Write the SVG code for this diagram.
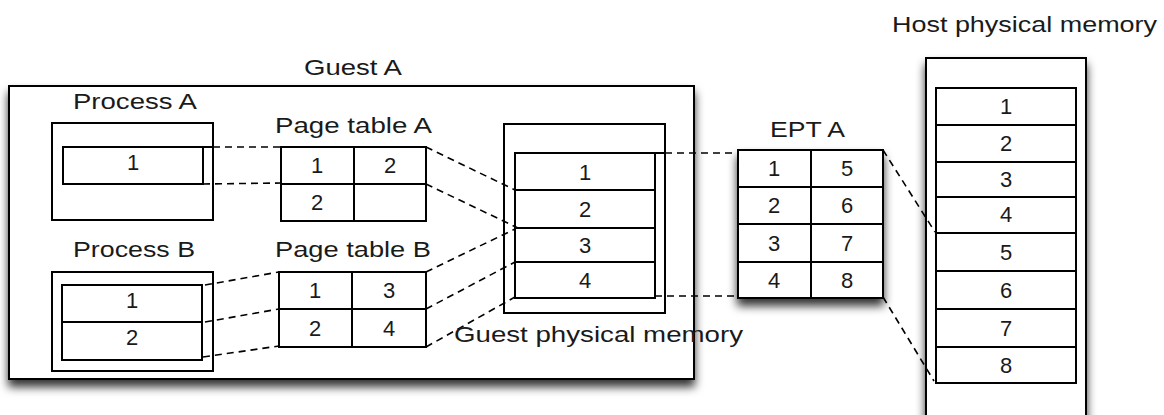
<svg xmlns="http://www.w3.org/2000/svg" width="1164" height="415" viewBox="0 0 1164 415">
<style>
.box{fill:#fff;stroke:#000;stroke-width:2}
.ln{fill:none;stroke:#000;stroke-width:2}
.dash{fill:none;stroke:#000;stroke-width:1.6;stroke-dasharray:7 5}
text{font-family:"Liberation Sans",Arial,sans-serif;font-size:22px;fill:#1a1a1a}
.c{text-anchor:middle}
</style>
<defs>
<filter id="sh" x="-20%" y="-20%" width="140%" height="150%">
<feDropShadow dx="0" dy="7" stdDeviation="5" flood-color="#000" flood-opacity="0.8"/>
</filter>
</defs>
<rect width="1164" height="415" fill="#fff"/>

<g id="guestA">
<rect class="box" x="9" y="86" width="685" height="293" filter="url(#sh)"/>
<text x="304" y="75" textLength="98" lengthAdjust="spacingAndGlyphs">Guest A</text>
</g>

<g id="processA">
<text x="73" y="109" textLength="124" lengthAdjust="spacingAndGlyphs">Process A</text>
<rect class="box" x="52" y="123" width="161" height="97"/>
<rect class="box" x="63" y="147" width="140" height="37"/>
<line class="ln" x1="203" y1="147" x2="213" y2="147"/>
<text class="c" x="133" y="170">1</text>
</g>

<g id="pageTableA">
<text x="275" y="133" textLength="157" lengthAdjust="spacingAndGlyphs">Page table A</text>
<rect class="box" x="281" y="147" width="145" height="74"/>
<line class="ln" x1="281" y1="184" x2="426" y2="184"/>
<line class="ln" x1="354" y1="147" x2="354" y2="221"/>
<text class="c" x="317" y="173">1</text>
<text class="c" x="390" y="173">2</text>
<text class="c" x="317" y="210">2</text>
</g>

<g id="processB">
<text x="73" y="257" textLength="122" lengthAdjust="spacingAndGlyphs">Process B</text>
<rect class="box" x="52" y="272" width="161" height="99"/>
<rect class="box" x="62" y="285" width="140" height="75"/>
<line class="ln" x1="62" y1="322" x2="202" y2="322"/>
<text class="c" x="132" y="308">1</text>
<text class="c" x="132" y="345">2</text>
</g>

<g id="pageTableB">
<text x="275" y="257" textLength="156" lengthAdjust="spacingAndGlyphs">Page table B</text>
<rect class="box" x="279" y="272" width="147" height="75"/>
<line class="ln" x1="279" y1="309" x2="426" y2="309"/>
<line class="ln" x1="352" y1="272" x2="352" y2="347"/>
<text class="c" x="315" y="298">1</text>
<text class="c" x="389" y="298">3</text>
<text class="c" x="315" y="336">2</text>
<text class="c" x="389" y="336">4</text>
</g>

<g id="guestPhysicalMemory">
<rect class="box" x="504" y="124" width="161" height="189"/>
<rect class="box" x="515" y="153" width="140" height="145"/>
<line class="ln" x1="515" y1="190" x2="655" y2="190"/>
<line class="ln" x1="515" y1="228" x2="655" y2="228"/>
<line class="ln" x1="515" y1="262" x2="655" y2="262"/>
<line class="ln" x1="655" y1="153" x2="665" y2="153"/>
<text class="c" x="585" y="180">1</text>
<text class="c" x="585" y="217">2</text>
<text class="c" x="585" y="253">3</text>
<text class="c" x="585" y="288">4</text>
</g>

<g id="eptA">
<text x="770" y="137" textLength="75" lengthAdjust="spacingAndGlyphs">EPT A</text>
<rect class="box" x="738" y="150" width="145" height="148" filter="url(#sh)"/>
<line class="ln" x1="738" y1="187" x2="883" y2="187"/>
<line class="ln" x1="738" y1="224" x2="883" y2="224"/>
<line class="ln" x1="738" y1="262" x2="883" y2="262"/>
<line class="ln" x1="811" y1="150" x2="811" y2="298"/>
<text class="c" x="774" y="176">1</text>
<text class="c" x="847" y="176">5</text>
<text class="c" x="774" y="213">2</text>
<text class="c" x="847" y="213">6</text>
<text class="c" x="774" y="251">3</text>
<text class="c" x="847" y="251">7</text>
<text class="c" x="774" y="288">4</text>
<text class="c" x="847" y="288">8</text>
</g>

<g id="hostPhysicalMemory">
<text x="892" y="32" textLength="265" lengthAdjust="spacingAndGlyphs">Host physical memory</text>
<rect class="box" x="926" y="58" width="160" height="380" filter="url(#sh)"/>
<rect class="box" x="936" y="88" width="140" height="295"/>
<line class="ln" x1="936" y1="125" x2="1076" y2="125"/>
<line class="ln" x1="936" y1="162" x2="1076" y2="162"/>
<line class="ln" x1="936" y1="197" x2="1076" y2="197"/>
<line class="ln" x1="936" y1="233" x2="1076" y2="233"/>
<line class="ln" x1="936" y1="271" x2="1076" y2="271"/>
<line class="ln" x1="936" y1="309" x2="1076" y2="309"/>
<line class="ln" x1="936" y1="347" x2="1076" y2="347"/>
<text class="c" x="1006" y="114">1</text>
<text class="c" x="1006" y="151">2</text>
<text class="c" x="1006" y="187">3</text>
<text class="c" x="1006" y="222">4</text>
<text class="c" x="1006" y="260">5</text>
<text class="c" x="1006" y="298">6</text>
<text class="c" x="1006" y="336">7</text>
<text class="c" x="1006" y="373">8</text>
</g>

<g id="connectors">
<line class="dash" x1="213" y1="147" x2="281" y2="147"/>
<line class="dash" x1="203" y1="184" x2="281" y2="183"/>
<line class="dash" x1="426" y1="147" x2="515" y2="190"/>
<line class="dash" x1="426" y1="184" x2="518" y2="228"/>
<line class="dash" x1="205" y1="285" x2="279" y2="272"/>
<line class="dash" x1="205" y1="322" x2="279" y2="309"/>
<line class="dash" x1="203" y1="357" x2="279" y2="346"/>
<line class="dash" x1="426" y1="272" x2="515" y2="229"/>
<line class="dash" x1="426" y1="309" x2="515" y2="262"/>
<line class="dash" x1="426" y1="347" x2="515" y2="297"/>
<line class="dash" x1="665" y1="153" x2="738" y2="153"/>
<line class="dash" x1="655" y1="296" x2="738" y2="296"/>
<line class="dash" x1="883" y1="150" x2="935" y2="232"/>
<line class="dash" x1="883" y1="297" x2="934" y2="381"/>
</g>

<g id="gpmLabel">
<text x="454" y="342" textLength="289" lengthAdjust="spacingAndGlyphs">Guest physical memory</text>
</g>
</svg>
